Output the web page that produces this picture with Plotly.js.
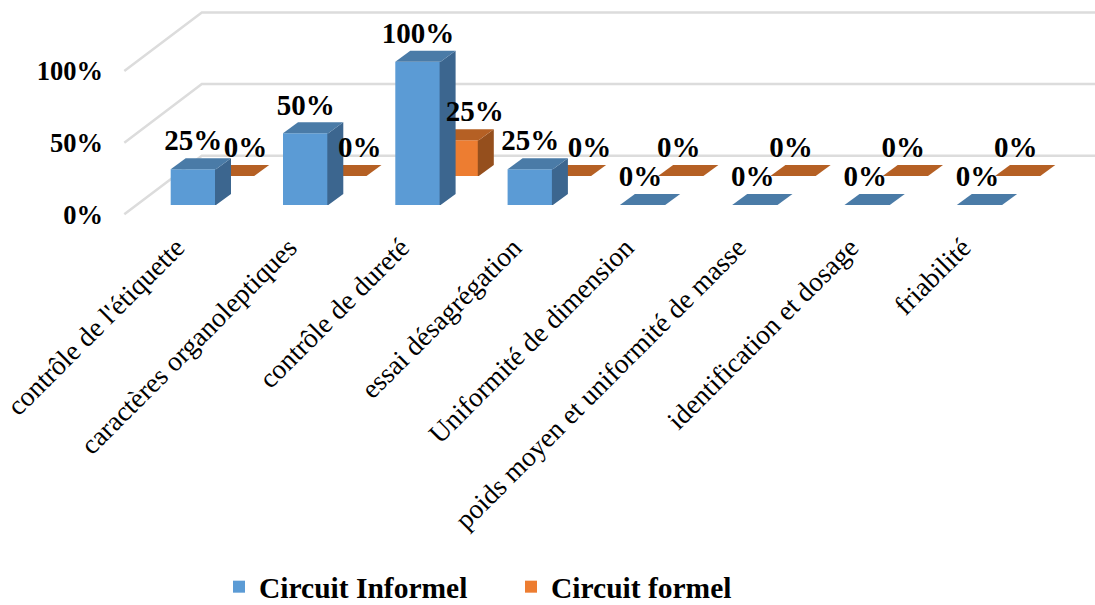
<!DOCTYPE html>
<html><head><meta charset="utf-8">
<script src="https://cdn.plot.ly/plotly-3.0.1.min.js"></script>
<style>html,body{margin:0;padding:0;background:#fff}#c{width:1095px;height:605px}</style>
</head><body><div id="c"></div>
<script>
const categories = ["contrôle de l'étiquette","caractères organoleptiques","contrôle de dureté","essai désagrégation","Uniformité de dimension","poids moyen et uniformité de masse","identification et dosage","friabilité"];
const circuitInformel = [25,50,100,25,0,0,0,0];
const circuitFormel = [0,0,25,0,0,0,0,0];
const yTicks = [0,50,100];
const W = 1095, H = 605, bottomMargin = 60, plotH = H - bottomMargin;
const pxPerCat = 112.3, pxPerPct = 1.433;
const xRange = [-193.35/pxPerCat, (W-193.35)/pxPerCat];
const yRange = [-(plotH-205)/pxPerPct, 205/pxPerPct];
const barW = 45.3/pxPerCat;
const depthX = 15/pxPerCat, depthY = 11/pxPerPct;
const rowX = 38.2/pxPerCat, rowY = 29/pxPerPct;
const seam = 1/pxPerCat;
const wallFrontX = (124.3-193.35)/pxPerCat, wallBackX = (201.8-193.35)/pxPerCat;
const wallFrontY = -9.3/pxPerPct, wallBackY = 49.3/pxPerPct;
const labelShift = -0.15;
const serif = '"Liberation Serif","Times New Roman",serif';
const blue = {front:'#5b9bd5', top:'#4a7ba7', side:'#3c668f'};
const orange = {front:'#ed7d31', top:'#b56024', side:'#954f1d'};

function faces(vals, xo, yo, col, ax, ay){
  const out = [];
  vals.forEach((v,i)=>{
    const l = i+xo-barW/2, r = i+xo+barW/2, b = yo, t = yo+v;
    if(v>0) out.push({type:'scatter',mode:'none',fill:'toself',fillcolor:col.side,xaxis:ax,yaxis:ay,showlegend:false,hoverinfo:'skip',
      x:[r-seam,r,r+depthX,r+depthX,r,r-seam,r-seam],y:[b,b,b+depthY,t+depthY,t,t,b]});
    out.push({type:'scatter',mode:'none',fill:'toself',fillcolor:col.top,xaxis:ax,yaxis:ay,showlegend:false,hoverinfo:'skip',
      x:[l,r,r+depthX,l+depthX,l],y:[t,t,t+depthY,t+depthY,t]});
  });
  return out;
}
const xs = circuitInformel.map((_,i)=>i);
const formelBar = {type:'bar',name:'Circuit formel',x:xs.map(i=>i+rowX),y:circuitFormel,base:xs.map(()=>rowY),width:barW,
  marker:{color:orange.front},xaxis:'x',yaxis:'y',hoverinfo:'y'};
const informelBar = {type:'bar',name:'Circuit Informel',x:xs,y:circuitInformel,width:barW,
  marker:{color:blue.front},xaxis:'x2',yaxis:'y2',hoverinfo:'y'};

const blueNudgeX = [0,0,0,0,-2,-2,-2,-2];
const orangeNudgeX = [14,16,18.6,21,-2,-2,-2,-2];
const labelLift = 26;
const labelFont = {family:serif,size:29,color:'#000',weight:700};
const blueLabels = {type:'scatter',mode:'text',xaxis:'x2',yaxis:'y2',showlegend:false,hoverinfo:'skip',cliponaxis:false,
  x:xs.map(i=>i+blueNudgeX[i]/pxPerCat),y:circuitInformel.map(v=>v+labelLift/pxPerPct),
  text:circuitInformel.map(v=>v+'%'),textposition:'middle center',textfont:labelFont};
const orangeLabels = {type:'scatter',mode:'text',xaxis:'x2',yaxis:'y2',showlegend:false,hoverinfo:'skip',cliponaxis:false,
  x:xs.map(i=>i+rowX+orangeNudgeX[i]/pxPerCat),y:circuitFormel.map(v=>v+rowY+(labelLift+0.5)/pxPerPct),
  text:circuitFormel.map(v=>v+'%'),textposition:'middle center',textfont:labelFont};

const gridShapes = yTicks.map(v=>({type:'path',xref:'x',yref:'y',layer:'below',
  path:`M${wallFrontX},${v+wallFrontY}L${wallBackX},${v+wallBackY}L${xRange[1]},${v+wallBackY}`,
  line:{color:'#dcdcdc',width:2.5},fillcolor:'rgba(0,0,0,0)'}));

const layout = {
  width:W,height:H,margin:{l:0,r:0,t:0,b:bottomMargin},paper_bgcolor:'#fff',plot_bgcolor:'#fff',barmode:'overlay',
  font:{family:serif,color:'#000'},
  xaxis:{range:xRange,showgrid:false,zeroline:false,showline:false,ticks:'',anchor:'free',position:1-225/plotH,
    tickmode:'array',tickvals:xs.map(i=>i+labelShift),ticktext:categories,tickangle:-45,tickfont:{family:serif,size:27.5}},
  yaxis:{range:yRange,showgrid:false,zeroline:false,showline:false,ticks:'',anchor:'free',position:103/W,
    tickmode:'array',tickvals:yTicks.map(v=>v+wallFrontY),ticktext:yTicks.map(v=>v+'%'),tickfont:{family:serif,size:26.5,weight:700}},
  xaxis2:{range:xRange,overlaying:'x',visible:false},
  yaxis2:{range:yRange,overlaying:'y',visible:false},
  shapes:gridShapes,
  legend:{orientation:'h',xref:'container',yref:'container',x:219/W,xanchor:'left',y:1-561/H,yanchor:'top',traceorder:'normal',entrywidth:247,entrywidthmode:'pixels',
    font:{family:serif,size:29.5,weight:700},bgcolor:'rgba(0,0,0,0)'},
  showlegend:true
};
const traces = [
  informelBar, formelBar,
  ...faces(circuitFormel,rowX,rowY,orange,'x','y'),
  ...faces(circuitInformel,0,0,blue,'x2','y2'),
  blueLabels, orangeLabels
];
Plotly.newPlot('c',traces,layout,{displayModeBar:false,responsive:false});
</script></body></html>
